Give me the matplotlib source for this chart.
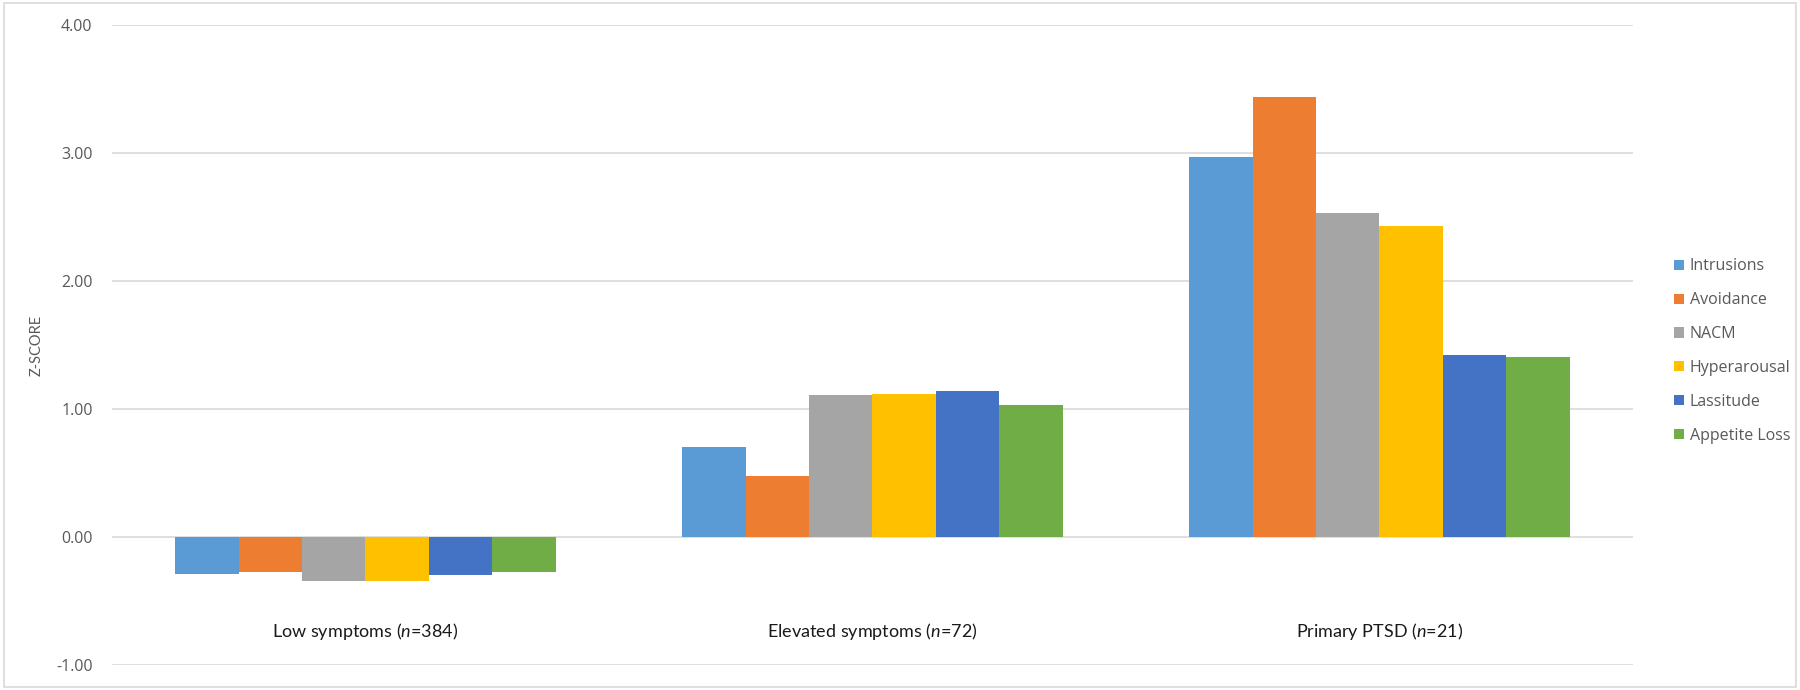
import numpy as np
import matplotlib.pyplot as plt
from matplotlib.patches import Rectangle

groups = ['Low symptoms', 'Elevated symptoms', 'Primary PTSD']
group_n = [384, 72, 21]
series = ['Intrusions', 'Avoidance', 'NACM', 'Hyperarousal', 'Lassitude', 'Appetite Loss']
colors = ['#5B9BD5', '#ED7D31', '#A5A5A5', '#FFC000', '#4472C4', '#70AD47']

intrusions = [-0.29, 0.70, 2.97]
avoidance = [-0.27, 0.48, 3.44]
nacm = [-0.345, 1.11, 2.53]
hyperarousal = [-0.34, 1.12, 2.43]
lassitude = [-0.30, 1.14, 1.42]
appetite_loss = [-0.27, 1.03, 1.41]
values = [intrusions, avoidance, nacm, hyperarousal, lassitude, appetite_loss]

yticks = [-1, 0, 1, 2, 3, 4]

plt.rcParams['font.family'] = ['Open Sans', 'DejaVu Sans']
plt.rcParams['mathtext.fontset'] = 'custom'
plt.rcParams['mathtext.rm'] = 'Lato'
plt.rcParams['mathtext.it'] = 'Lato:italic'

fig = plt.figure(figsize=(18, 6.9), dpi=100)
ax = fig.add_axes([112 / 1800, 25 / 690, (1633 - 112) / 1800, 640 / 690])

# outer chart border
fig.patches.append(Rectangle((4 / 1800, 3 / 690), 1792 / 1800, 684 / 690,
                             transform=fig.transFigure, fill=False,
                             edgecolor='#D9D9D9', linewidth=1.2))

x = np.arange(len(groups))
w = 0.125
for i, (name, vals) in enumerate(zip(series, values)):
    ax.bar(x + (i - 2.5) * w, vals, width=w, color=colors[i], label=name, zorder=3)

ax.set_xlim(-0.5, len(groups) - 0.5)
ax.set_ylim(-1, 4)
ax.set_yticks(yticks)
ax.set_yticklabels([f'{v:.2f}' for v in yticks])
ax.tick_params(axis='y', length=0, pad=14, labelsize=11.5, labelcolor='#595959')
ax.set_xticks([])
ax.grid(axis='y', color='#D9D9D9', linewidth=1.2, zorder=0)
for s in ax.spines.values():
    s.set_visible(False)

ax.set_ylabel('Z-SCORE', fontsize=10.5, family='Lato', color='#595959', labelpad=9)

for xi, g, n in zip(x, groups, group_n):
    ax.text(xi, -0.74, f'{g} ($\\mathit{{n}}$={n})', ha='center', va='center',
            fontsize=13, family='Lato', color='#1a1a1a')

fig.legend(loc='upper left', bbox_to_anchor=(1660 / 1800, 1 - 244 / 690),
           frameon=False, fontsize=11.5, handlelength=0.6, handleheight=0.6,
           handletextpad=0.35, labelspacing=1.12, labelcolor='#595959')

fig.savefig('out.png', dpi=100)
